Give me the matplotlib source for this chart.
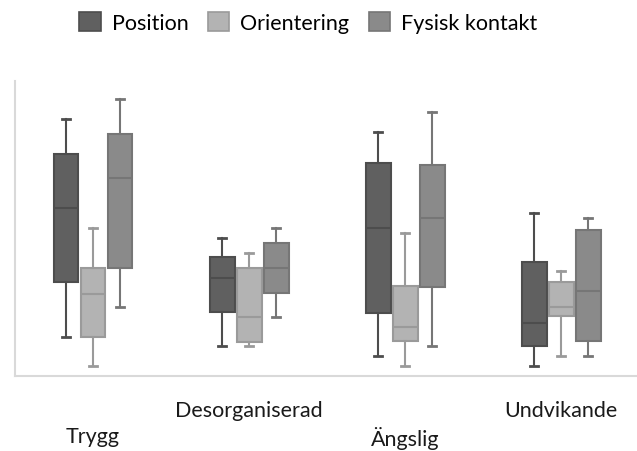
import matplotlib.pyplot as plt
from matplotlib.patches import Patch

plt.rcParams['font.family'] = ['Lato', 'DejaVu Sans']

categories = ['Trygg', 'Desorganiserad', 'Ängslig', 'Undvikande']
series = ['Position', 'Orientering', 'Fysisk kontakt']

# whisker low, q1, median, q3, whisker high per category
position_stats = [
    [1.32, 3.19, 5.69, 7.53, 8.71],
    [1.02, 2.17, 3.32, 4.03, 4.68],
    [0.68, 2.14, 5.02, 7.22, 8.27],
    [0.34, 1.02, 1.80, 3.86, 5.53],
]
orientering_stats = [
    [0.34, 1.32, 2.78, 3.66, 5.02],
    [1.02, 1.15, 2.00, 3.66, 4.17],
    [0.34, 1.19, 1.66, 3.05, 4.85],
    [0.68, 2.03, 2.34, 3.19, 3.56],
]
fysisk_stats = [
    [2.34, 3.66, 6.71, 8.20, 9.39],
    [2.00, 2.81, 3.66, 4.51, 5.02],
    [1.02, 3.02, 5.36, 7.15, 8.95],
    [0.68, 1.19, 2.88, 4.95, 5.36],
]

fills = ['#606060', '#b3b3b3', '#8a8a8a']
edges = ['#4d4d4d', '#9a9a9a', '#767676']

fig = plt.figure(figsize=(6.37, 4.52), dpi=100)
ax = fig.add_axes([0.0235, 0.166, 0.98, 0.653])

offsets = [-0.173, 0.0, 0.173]
for k, stats in enumerate([position_stats, orientering_stats, fysisk_stats]):
    boxes = []
    for lo, q1, med, q3, hi in stats:
        boxes.append({'whislo': lo, 'q1': q1, 'med': med, 'q3': q3, 'whishi': hi, 'fliers': []})
    pos = [i + offsets[k] for i in range(len(categories))]
    ax.bxp(boxes, positions=pos, widths=0.16, capwidths=0.05, patch_artist=True, showfliers=False,
           boxprops=dict(facecolor=fills[k], edgecolor=edges[k], linewidth=1.5),
           medianprops=dict(color=edges[k], linewidth=1.5),
           whiskerprops=dict(color=edges[k], linewidth=1.5),
           capprops=dict(color=edges[k], linewidth=2))

ax.set_xlim(-0.5, 3.5)
ax.set_ylim(0, 10)
ax.set_yticks([])
ax.set_xticks(range(len(categories)))
ax.set_xticklabels(categories, fontsize=15.5, color='#1a1a1a')
ax.tick_params(axis='x', length=0)
for i, t in enumerate(ax.xaxis.get_major_ticks()):
    t.set_pad(36 if i % 2 == 0 else 17)

for s in ['top', 'right']:
    ax.spines[s].set_visible(False)
for s in ['left', 'bottom']:
    ax.spines[s].set_color('#d9d9d9')
    ax.spines[s].set_linewidth(1.5)

handles = [Patch(facecolor=fills[k], edgecolor=edges[k], linewidth=1.2) for k in range(3)]
fig.legend(handles, series, loc='center', bbox_to_anchor=(0.484, 0.948), ncol=3, frameon=False,
           fontsize=15.5, handlelength=1.0, handleheight=1.0, handletextpad=0.5, columnspacing=0.9)

fig.savefig('out.png', dpi=100)
